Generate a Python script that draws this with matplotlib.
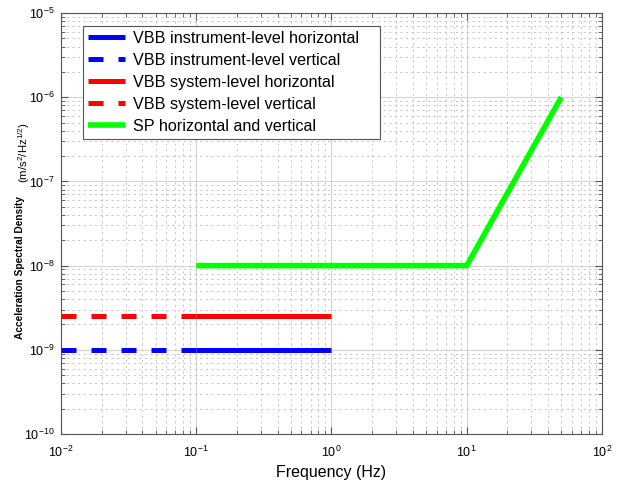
import numpy as np
import matplotlib
matplotlib.use("Agg")
import matplotlib.pyplot as plt
from matplotlib.ticker import FuncFormatter, LogLocator, NullFormatter

plt.rcParams.update({
    "font.family": ["Liberation Sans", "DejaVu Sans"],
    "mathtext.fontset": "custom",
    "mathtext.rm": "Liberation Sans",
    "mathtext.it": "Liberation Sans:italic",
    "mathtext.bf": "Liberation Sans:bold",
    "lines.scale_dashes": False,
})

# noise floor levels (m/s^2/Hz^1/2)
vbb_inst_level = 1e-9
vbb_sys_level = 2.5e-9
vbb_f_dashed = [0.01, 0.1]
vbb_f_solid = [0.1, 1.0]

sp_freq = [0.1, 10.0, 50.0]
sp_asd = [1e-8, 1e-8, 1e-6]

blue = "#0000ff"
red = "#ff0000"
green = "#00ff00"

fig = plt.figure(figsize=(6.19, 4.83), dpi=100)
ax = fig.add_axes([0.0985, 0.1014, 0.8740, 0.8716])

lw = 3.6
dash = (10.8, 10.8)
ax.loglog(vbb_f_solid, [vbb_inst_level] * 2, color=blue, lw=lw, solid_capstyle="butt",
          label="VBB instrument-level horizontal", zorder=3)
ax.loglog(vbb_f_dashed, [vbb_inst_level] * 2, color=blue, lw=lw, dashes=dash,
          dash_capstyle="butt", label="VBB instrument-level vertical", zorder=3)
ax.loglog(vbb_f_solid, [vbb_sys_level] * 2, color=red, lw=lw, solid_capstyle="butt",
          label="VBB system-level horizontal", zorder=3)
ax.loglog(vbb_f_dashed, [vbb_sys_level] * 2, color=red, lw=lw, dashes=dash,
          dash_capstyle="butt", label="VBB system-level vertical", zorder=3)
ax.loglog(sp_freq, sp_asd, color=green, lw=4.0, solid_capstyle="butt",
          label="SP horizontal and vertical", zorder=3)

ax.set_xlim(1e-2, 1e2)
ax.set_ylim(1e-10, 1e-5)

def pow_fmt(v, pos):
    e = int(np.round(np.log10(v)))
    return r"$\mathregular{10^{%d}}$" % e

ax.xaxis.set_major_locator(LogLocator(base=10, numticks=10))
ax.yaxis.set_major_locator(LogLocator(base=10, numticks=10))
ax.xaxis.set_minor_locator(LogLocator(base=10, subs=np.arange(2, 10), numticks=20))
ax.yaxis.set_minor_locator(LogLocator(base=10, subs=np.arange(2, 10), numticks=20))
ax.xaxis.set_major_formatter(FuncFormatter(pow_fmt))
ax.yaxis.set_major_formatter(FuncFormatter(pow_fmt))
ax.xaxis.set_minor_formatter(NullFormatter())
ax.yaxis.set_minor_formatter(NullFormatter())

ax.tick_params(which="both", direction="in", top=True, right=True, color="#555555")
ax.tick_params(which="major", length=5, labelsize=9)
ax.tick_params(axis="x", which="major", pad=8)
ax.tick_params(axis="y", which="major", pad=4.5)
ax.tick_params(which="minor", length=3)

ax.grid(which="major", color="#d4d4d4", lw=0.8, ls="-")
ax.grid(which="minor", color="#c4c4c4", lw=0.7, ls=(0, (1.5, 2.5)))
ax.set_axisbelow(True)
for s in ax.spines.values():
    s.set_color("#555555")
    s.set_linewidth(0.8)

ax.set_xlabel("Frequency (Hz)", fontsize=11.5, labelpad=3)

# y label: bold description plus units in regular type
fig.text(0.032, 0.447, "Acceleration Spectral Density", rotation=90, fontsize=7.3,
         fontweight="bold", ha="center", va="center")
fig.text(0.039, 0.683, r"(m/s$^2$/Hz$^{1/2}$)", rotation=90, fontsize=8.2,
         ha="center", va="center")

leg = ax.legend(loc="upper left", bbox_to_anchor=(0.0407, 0.0, 0.549, 0.969),
                mode="expand", fontsize=11.6,
                frameon=True, fancybox=False, framealpha=1, edgecolor="#555555",
                handlelength=2.3, handletextpad=0.5, borderpad=0.31,
                labelspacing=0.43, borderaxespad=0)
leg.get_frame().set_linewidth(0.8)

fig.savefig("out.png", dpi=100)
